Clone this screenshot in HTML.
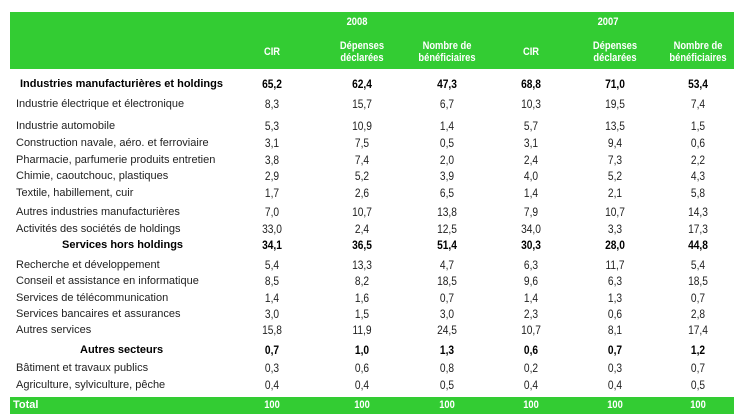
<!DOCTYPE html>
<html><head><meta charset="utf-8"><style>
body{margin:0;width:743px;height:419px;background:#fff;font-family:"Liberation Sans",sans-serif;position:relative;overflow:hidden}
.g{position:absolute;background:#33cc33}
.t{position:absolute;font-size:11px;color:#222;white-space:nowrap;line-height:12px}
.c{transform:translateX(-50%) scaleX(0.85);text-align:center;font-size:12px}
.h{color:#fff;font-weight:bold;font-size:11px}
.b{font-weight:bold;color:#000}
</style></head><body>
<div class="g" style="left:10px;top:12px;width:724px;height:57px"></div>
<div class="g" style="left:10px;top:397px;width:724px;height:17px"></div>
<div id="r"></div>
<script>
var X=[272,362,447,531,615,698];
var out='';
function t(x,y,s,cls,c){out+='<div class="t '+(c?'c ':'')+(cls||'')+'" style="left:'+x+'px;top:'+y+'px">'+s+'</div>';}
t(357,16,'2008','h',1);t(608,16,'2007','h',1);
var hd=['CIR','Dépenses<br>déclarées','Nombre de<br>bénéficiaires','CIR','Dépenses<br>déclarées','Nombre de<br>bénéficiaires'];
for(var i=0;i<6;i++){t(X[i],i%3==0?46:40,hd[i],'h',1);}
var R=[
[78,'Industries manufacturières et holdings',['65,2','62,4','47,3','68,8','71,0','53,4'],'b',20],
[98,'Industrie électrique et électronique',['8,3','15,7','6,7','10,3','19,5','7,4']],
[120,'Industrie automobile',['5,3','10,9','1,4','5,7','13,5','1,5']],
[137,'Construction navale, aéro. et ferroviaire',['3,1','7,5','0,5','3,1','9,4','0,6']],
[154,'Pharmacie, parfumerie produits entretien',['3,8','7,4','2,0','2,4','7,3','2,2']],
[170,'Chimie, caoutchouc, plastiques',['2,9','5,2','3,9','4,0','5,2','4,3']],
[187,'Textile, habillement, cuir',['1,7','2,6','6,5','1,4','2,1','5,8']],
[206,'Autres industries manufacturières',['7,0','10,7','13,8','7,9','10,7','14,3']],
[223,'Activités des sociétés de holdings',['33,0','2,4','12,5','34,0','3,3','17,3']],
[239,'Services hors holdings',['34,1','36,5','51,4','30,3','28,0','44,8'],'b',62],
[259,'Recherche et développement',['5,4','13,3','4,7','6,3','11,7','5,4']],
[275,'Conseil et assistance en informatique',['8,5','8,2','18,5','9,6','6,3','18,5']],
[292,'Services de télécommunication',['1,4','1,6','0,7','1,4','1,3','0,7']],
[308,'Services bancaires et assurances',['3,0','1,5','3,0','2,3','0,6','2,8']],
[324,'Autres services',['15,8','11,9','24,5','10,7','8,1','17,4']],
[344,'Autres secteurs',['0,7','1,0','1,3','0,6','0,7','1,2'],'b',80],
[362,'Bâtiment et travaux publics',['0,3','0,6','0,8','0,2','0,3','0,7']],
[379,'Agriculture, sylviculture, pêche',['0,4','0,4','0,5','0,4','0,4','0,5']],
[399,'Total',['100','100','100','100','100','100'],'h',13]
];
R.forEach(function(r){t(r[4]||16,r[0],r[1],r[3]);for(var i=0;i<6;i++)t(X[i],r[0],r[2][i],r[3],1);});
document.getElementById('r').innerHTML=out;
</script>
</body></html>
